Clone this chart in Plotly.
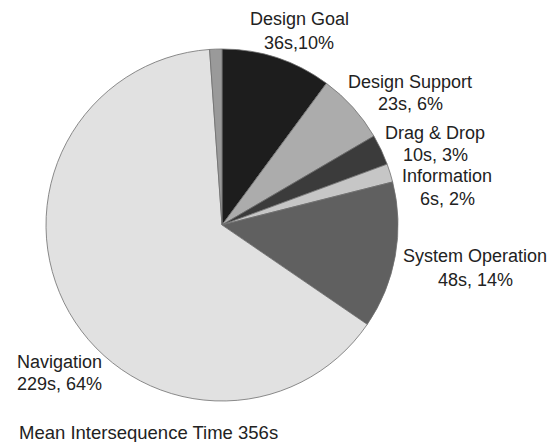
import plotly.graph_objects as go

W, H = 560, 442

categories = ["Design Goal", "Design Support", "Drag & Drop", "Information",
              "System Operation", "Navigation", "Other"]
seconds = [36, 23, 10, 6, 48, 229, 4]
label_line1 = ["Design Goal", "Design Support", "Drag & Drop", "Information",
               "System Operation", "Navigation"]
label_line2 = ["36s,10%", "23s, 6%", "10s, 3%", "6s, 2%", "48s, 14%", "229s, 64%"]
title_text = "Mean Intersequence Time 356s"

colors = ["#1d1d1d", "#acacac", "#3b3b3b", "#c6c6c6", "#606060", "#e1e1e1", "#9a9a9a"]

# pie geometry in pixels
cx, cy, r = 222, 225, 176

fig = go.Figure(go.Pie(
    labels=categories, values=seconds, sort=False, direction="clockwise",
    rotation=0, textinfo="none", hoverinfo="label+value+percent",
    marker=dict(colors=colors, line=dict(color="#6f6f6f", width=0.8)),
    domain=dict(x=[(cx - r) / W, (cx + r) / W],
                y=[1 - (cy + r) / H, 1 - (cy - r) / H]),
    showlegend=False,
))

# label positions (pixels): x, y line1, y line2, xanchor
label_pos = [(299, 19, 43, "center"), (410, 82, 104, "center"),
             (435, 133, 155, "center"), (447, 176, 199, "center"),
             (475, 256, 280, "center"), (15, 362, 384, "left")]

font = dict(family="Liberation Sans, Arial, sans-serif", size=18, color="#222222")
for (x, y1, y2, xa), t1, t2 in zip(label_pos, label_line1, label_line2):
    for y, t in ((y1, t1), (y2, t2)):
        fig.add_annotation(x=x / W, y=1 - y / H, xref="paper", yref="paper",
                           text=t, showarrow=False, xanchor=xa, yanchor="middle",
                           align=xa, font=font)

fig.add_annotation(x=17 / W, y=1 - 432 / H, xref="paper", yref="paper",
                   text=title_text, showarrow=False, xanchor="left",
                   yanchor="middle",
                   font=dict(family="Liberation Sans, Arial, sans-serif",
                             size=18.5, color="#222222"))

fig.update_layout(width=W, height=H, margin=dict(l=0, r=0, t=0, b=0),
                  paper_bgcolor="white", plot_bgcolor="white")
fig.write_html("out.html")
